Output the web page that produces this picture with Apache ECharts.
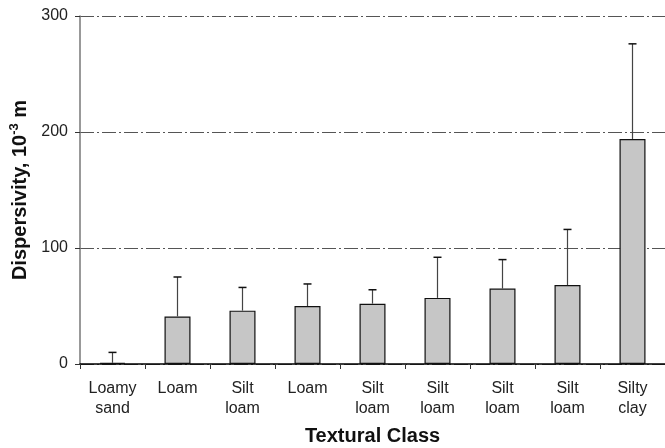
<!DOCTYPE html>
<html>
<head>
<meta charset="utf-8">
<script src="https://cdn.jsdelivr.net/npm/echarts@6/dist/echarts.min.js"></script>
<style>
  html, body { margin: 0; padding: 0; background: #fff; }
  #chart { width: 665px; height: 448px; }
</style>
</head>
<body>
<div id="chart"></div>
<script>
// Textural classes (two-line labels)
const categories = [
  'Loamy\nsand', 'Loam', 'Silt\nloam', 'Loam', 'Silt\nloam',
  'Silt\nloam', 'Silt\nloam', 'Silt\nloam', 'Silty\nclay'
];
// Mean dispersivity, 10^-3 m
const meanValues = [1, 41, 46, 50, 52, 57, 65, 68, 194];
// Upper end of the error bar (mean + SD)
const upperValues = [10, 75, 66, 69, 64, 92, 90, 116, 276];
const yTicks = [0, 100, 200, 300];

const chart = echarts.init(document.getElementById('chart'));
const font = 'Liberation Sans, Arial, sans-serif';

const errorData = categories.map((c, i) => [i, meanValues[i], upperValues[i]]);

chart.setOption({
  animation: false,
  grid: { left: 80, right: 0, top: 16, bottom: 84, containLabel: false, outerBoundsMode: 'none' },
  xAxis: {
    type: 'category',
    data: categories,
    axisLine: { lineStyle: { color: '#000', width: 1.5 } },
    axisTick: { show: true, length: 5, lineStyle: { color: '#333' } },
    axisLabel: { color: '#222', fontFamily: font, fontSize: 16, lineHeight: 20, margin: 15 },
    name: 'Textural Class',
    nameLocation: 'middle',
    nameGap: 62,
    nameTextStyle: { fontFamily: font, fontSize: 20, fontWeight: 'bold', color: '#111' }
  },
  yAxis: {
    type: 'value',
    min: yTicks[0],
    max: yTicks[yTicks.length - 1],
    interval: 100,
    axisLine: { show: true, lineStyle: { color: '#777', width: 1.5 } },
    axisTick: { show: true, length: 5, lineStyle: { color: '#333' } },
    axisLabel: { color: '#222', fontFamily: font, fontSize: 16, margin: 12 },
    splitLine: { lineStyle: { color: '#555', type: [14, 3, 2, 3], width: 1 } },
    name: '{b|Dispersivity, 10}{s|-3}{b| m}',
    nameLocation: 'middle',
    nameGap: 39,
    nameTextStyle: {
      rich: {
        b: { fontFamily: font, fontSize: 20, fontWeight: 'bold', color: '#111' },
        s: { fontFamily: font, fontSize: 13, fontWeight: 'bold', color: '#111', verticalAlign: 'bottom', padding: [0, 0, 12, 0] }
      }
    }
  },
  series: [
    {
      type: 'bar',
      data: meanValues,
      barWidth: '40%',
      itemStyle: { color: '#c6c6c6', borderColor: '#111', borderWidth: 1.2 },
      z: 2
    },
    {
      type: 'custom',
      data: errorData,
      z: 3,
      renderItem: function (params, api) {
        const x = api.value(0);
        const top = api.coord([x, api.value(2)]);
        const base = api.coord([x, api.value(1)]);
        const cap = 4;
        return {
          type: 'group',
          children: [
            { type: 'line', shape: { x1: top[0], y1: top[1], x2: base[0], y2: base[1] },
              style: { stroke: '#444', lineWidth: 1.2 } },
            { type: 'line', shape: { x1: top[0] - cap, y1: top[1], x2: top[0] + cap, y2: top[1] },
              style: { stroke: '#111', lineWidth: 1.5 } }
          ]
        };
      }
    }
  ]
});
</script>
</body>
</html>
